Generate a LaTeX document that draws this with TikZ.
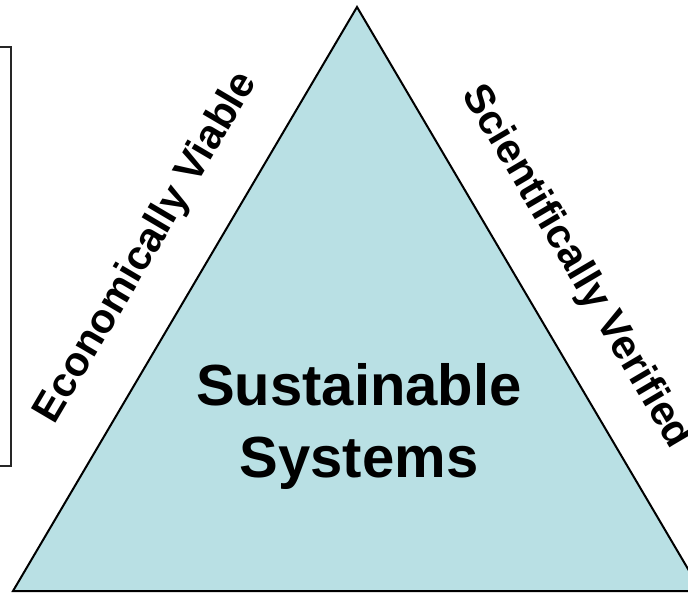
\documentclass[tikz,border=0pt]{standalone}
\usepackage{fontspec}
\setmainfont{Liberation Sans}
\usetikzlibrary{positioning, calc}

\definecolor{trifill}{RGB}{185,224,228}

\begin{document}
\begin{tikzpicture}[x=0.75pt, y=-0.75pt,
					side/.style={font=\bfseries\fontsize{31}{37}\selectfont, inner sep=0pt},
					centre/.style={font=\bfseries\fontsize{43.5}{54}\selectfont, align=center, inner sep=0pt},
					edge/.style={line width=1.5pt, line join=miter}]
	\useasboundingbox (0,0) rectangle (688,593);
	\clip (0,0) rectangle (688,593);

	%Vertices do triangulo:
	\coordinate (top)   at (357,7);
	\coordinate (left)  at (13,591);
	\coordinate (right) at (701,591);

	%caixa cortada na margem esquerda
	\draw[line width=1.6pt, draw=black!85] (-20,47) rectangle (11,466);

	\fill[trifill] (top) -- (left) -- (right) -- cycle;
	\draw[edge] (top) -- (left) -- (right) -- cycle;

	\node[centre] (sys) at (359,426) {Sustainable\\Systems};
	\node[side, rotate=59.5]  (econ) at (147,248) {Economically Viable};
	\node[side, rotate=-59.5] (sci)  at (576,267) {Scientifically Verified};
\end{tikzpicture}
\end{document}
